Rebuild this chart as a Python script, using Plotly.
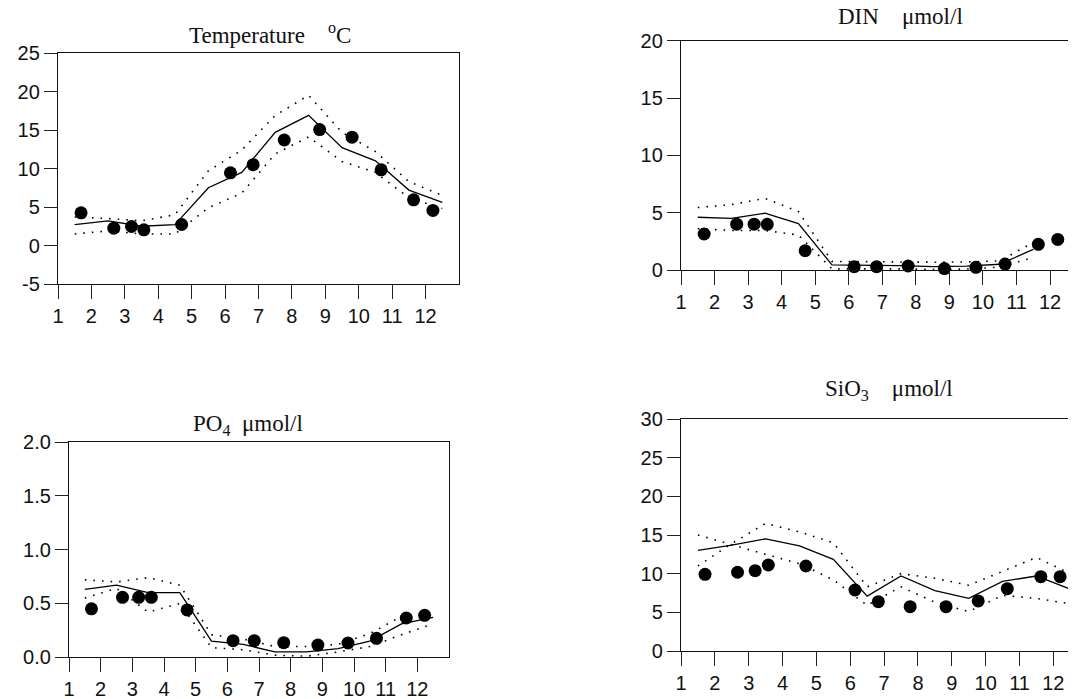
import plotly.graph_objects as go

# ---------------- data ----------------
mid_months = [1.5, 2.5, 3.5, 4.5, 5.5, 6.5, 7.5, 8.5, 9.5, 10.5, 11.5, 12.5]
month_ticks = list(range(1, 13))

# Temperature (deg C)
temp_obs_x = [1.69, 2.67, 3.20, 3.57, 4.70, 6.16, 6.84, 7.77, 8.83, 9.80, 10.67, 11.64, 12.22]
temp_obs_y = [4.25, 2.25, 2.47, 2.04, 2.73, 9.44, 10.5, 13.7, 15.06, 14.07, 9.83, 5.93, 4.55]
temp_mean = [2.7, 3.2, 2.5, 2.7, 7.5, 9.5, 14.7, 16.9, 12.7, 11.0, 7.2, 5.6]
temp_upper = [3.7, 3.5, 3.2, 4.0, 9.7, 12.4, 16.9, 19.5, 14.7, 12.2, 8.3, 6.5]
temp_lower = [1.5, 1.9, 1.5, 1.5, 4.9, 6.8, 11.9, 14.1, 10.9, 9.5, 6.2, 4.8]
temp_yticks = [-5, 0, 5, 10, 15, 20, 25]

# DIN (umol/l)
din_obs_x = [1.69, 2.66, 3.18, 3.57, 4.70, 6.16, 6.83, 7.77, 8.85, 9.79, 10.66, 11.65, 12.23]
din_obs_y = [3.14, 4.0, 4.0, 3.98, 1.68, 0.29, 0.29, 0.35, 0.12, 0.23, 0.52, 2.24, 2.67]
din_mean = [4.6, 4.5, 4.95, 4.05, 0.45, 0.43, 0.38, 0.30, 0.33, 0.5, 1.8]
din_upper = [5.45, 5.7, 6.25, 5.1, 0.75, 0.72, 0.7, 0.68, 0.7, 0.8, 2.4]
din_lower = [3.6, 3.45, 3.45, 3.05, 0.1, 0.12, 0.1, 0.05, 0.08, 0.25, 1.1]
din_yticks = [0, 5, 10, 15, 20]

# PO4 (umol/l)
po4_obs_x = [1.71, 2.69, 3.20, 3.60, 4.73, 6.18, 6.85, 7.78, 8.86, 9.81, 10.71, 11.65, 12.23]
po4_obs_y = [0.45, 0.557, 0.557, 0.557, 0.44, 0.154, 0.154, 0.136, 0.114, 0.133, 0.176, 0.365, 0.39]
po4_mean = [0.63, 0.67, 0.60, 0.60, 0.15, 0.12, 0.05, 0.05, 0.08, 0.15, 0.31, 0.37]
po4_upper = [0.72, 0.70, 0.74, 0.67, 0.21, 0.17, 0.10, 0.10, 0.12, 0.22, 0.38, 0.41]
po4_lower = [0.55, 0.64, 0.42, 0.50, 0.09, 0.07, 0.02, 0.01, 0.05, 0.10, 0.21, 0.31]
po4_yticks = [0.0, 0.5, 1.0, 1.5, 2.0]

# SiO3 (umol/l)
sio_obs_x = [1.71, 2.67, 3.19, 3.58, 4.69, 6.14, 6.83, 7.77, 8.83, 9.78, 10.64, 11.63, 12.20]
sio_obs_y = [9.91, 10.18, 10.39, 11.12, 10.99, 7.89, 6.38, 5.73, 5.73, 6.47, 8.06, 9.61, 9.61]
sio_mean = [13.0, 13.7, 14.5, 13.6, 11.85, 7.1, 9.7, 7.8, 6.8, 9.0, 9.7, 8.0]
sio_band_a = [15.0, 13.7, 12.5, 11.3, 9.2, 5.9, 8.3, 6.3, 5.1, 7.2, 6.8, 6.1]
sio_band_b = [11.0, 13.9, 16.5, 15.4, 14.0, 8.3, 10.0, 9.4, 8.5, 10.3, 12.1, 10.0]
sio_yticks = [0, 5, 10, 15, 20, 25, 30]

NB = "\u00a0"
titles = [
    "Temperature" + NB * 4 + "<sup>o</sup>C",
    "DIN" + NB * 4 + "\u03bcmol/l",
    "PO<sub>4</sub>" + NB * 2 + "\u03bcmol/l",
    "SiO<sub>3</sub>" + NB * 4 + "\u03bcmol/l",
]

# ---------------- layout geometry ----------------
# The page body has an 8px default margin, so the figure starts at (8, 8) on screen.
OFF = 8
W, H = 1076 - OFF, 699 - OFF

def dx(a, b):
    return [(a - OFF) / W, min((b - OFF) / W, 1.0)]

def dy(top, bottom):
    return [1 - (bottom - OFF) / H, 1 - (top - OFF) / H]

panels = [
    dict(xd=dx(58, 459), yd=dy(53, 284), xr=[1, 13], yr=[-5, 25], yt=temp_yticks, fmt="{:d}", box=True,
         obs=(temp_obs_x, temp_obs_y), mean=temp_mean, a=temp_upper, b=temp_lower,
         title=(270, 33)),
    dict(xd=dx(681, 1076), yd=dy(40.7, 270), xr=[1, 1 + 395 / 33.55], yr=[0, 20], yt=din_yticks, fmt="{:d}", box=False,
         obs=(din_obs_x, din_obs_y), mean=din_mean, a=din_upper, b=din_lower,
         title=(900, 17)),
    dict(xd=dx(69, 449), yd=dy(442, 657.3), xr=[1, 13], yr=[0, 2], yt=po4_yticks, fmt="{:.1f}", box=True,
         obs=(po4_obs_x, po4_obs_y), mean=po4_mean, a=po4_upper, b=po4_lower,
         title=(248, 425)),
    dict(xd=dx(681, 1076), yd=dy(419, 651), xr=[1, 1 + 395 / 33.85], yr=[0, 30], yt=sio_yticks, fmt="{:d}", box=False,
         obs=(sio_obs_x, sio_obs_y), mean=sio_mean, a=sio_band_a, b=sio_band_b,
         title=(889, 390)),
]

fig = go.Figure()
tick_font = dict(family="Liberation Sans, Arial, sans-serif", size=20, color="#111")
title_font = dict(family="Liberation Serif, Times New Roman, serif", size=23, color="#111")

for i, p in enumerate(panels):
    n = "" if i == 0 else str(i + 1)
    xa, ya = "x" + n, "y" + n
    mx = mid_months[:len(p["mean"])]
    for band in (p["a"], p["b"]):
        fig.add_trace(go.Scatter(x=mx, y=band, xaxis=xa, yaxis=ya, mode="lines",
                                 line=dict(color="black", width=1.6, dash="1.6px,7px"),
                                 showlegend=False, hoverinfo="skip"))
    fig.add_trace(go.Scatter(x=mx, y=p["mean"], xaxis=xa, yaxis=ya, mode="lines",
                             line=dict(color="black", width=1.3), showlegend=False))
    fig.add_trace(go.Scatter(x=p["obs"][0], y=p["obs"][1], xaxis=xa, yaxis=ya, mode="markers",
                             marker=dict(color="black", size=13), cliponaxis=False,
                             showlegend=False))
    fig.layout["xaxis" + n] = dict(
        domain=p["xd"], range=p["xr"], anchor=ya, tickmode="array", tickvals=month_ticks,
        ticktext=[str(m) for m in month_ticks], ticks="outside", ticklen=14, tickwidth=1.3,
        tickcolor="#222", showline=True, linecolor="#111", linewidth=1.3, mirror=True,
        showgrid=False, zeroline=False, tickfont=tick_font, fixedrange=True, automargin=False)
    fig.layout["yaxis" + n] = dict(
        domain=p["yd"], range=p["yr"], anchor=xa, tickmode="array", tickvals=p["yt"],
        ticktext=[p["fmt"].format(v).replace("\u2212", "-") for v in p["yt"]],
        ticks="outside", ticklen=13, tickwidth=1.3, tickcolor="#222",
        showline=True, linecolor="#111", linewidth=1.3, mirror=p["box"],
        showgrid=False, zeroline=False, tickfont=tick_font, fixedrange=True, automargin=False)
    fig.add_annotation(x=(p["title"][0] - OFF) / W, y=1 - (p["title"][1] - OFF) / H,
                       xref="paper", yref="paper",
                       text=titles[i], showarrow=False, font=title_font,
                       xanchor="center", yanchor="middle")

fig.update_layout(width=W, height=H, margin=dict(l=0, r=0, t=0, b=0, autoexpand=False), autosize=False,
                  paper_bgcolor="white", plot_bgcolor="white", showlegend=False)

fig.write_html("out.html", config={"displayModeBar": False})
